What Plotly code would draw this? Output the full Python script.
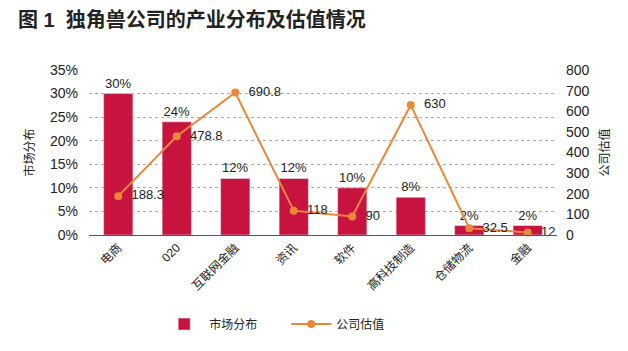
import plotly.graph_objects as go

categories = ["电商", "020", "互联网金融", "资讯", "软件", "高科技制造", "仓储物流", "金融"]
market_share = [30, 24, 12, 12, 10, 8, 2, 2]
valuation = [188.3, 478.8, 690.8, 118, 90, 630, 32.5, 12]
valuation_text = ["188.3", "478.8", "690.8", "118", "90", "630", "32.5", "12"]

FONT = "Liberation Sans, Noto Sans CJK SC, sans-serif"
BAR_COLOR = "#C8133F"
LINE_COLOR = "#EB873C"
TXT = "#222"

fig = go.Figure()
fig.add_trace(go.Bar(
    x=categories, y=market_share, name="市场分布",
    marker_color=BAR_COLOR, width=0.5,
    text=[f"{v}%" for v in market_share], textposition="outside",
    textfont=dict(size=13, color=TXT, family=FONT),
    cliponaxis=False,
))
fig.add_trace(go.Scatter(
    x=categories, y=valuation, name="公司估值", yaxis="y2",
    mode="lines+markers+text",
    line=dict(color=LINE_COLOR, width=2),
    marker=dict(color=LINE_COLOR, size=8),
    text=["  " + t for t in valuation_text], textposition="middle right",
    textfont=dict(size=13, color=TXT, family=FONT),
    cliponaxis=False,
))

fig.update_layout(
    width=628, height=351,
    margin=dict(l=89, r=71, t=70, b=114),
    paper_bgcolor="white", plot_bgcolor="white",
    font=dict(family=FONT, size=12, color=TXT),
    title=dict(text="<b>图 1  独角兽公司的产业分布及估值情况</b>",
               x=18 / 628, xref="container", xanchor="left", y=1 - 20 / 351, yanchor="middle",
               font=dict(size=20, color=TXT, family=FONT)),
    bargap=0.5,
    showlegend=True,
    legend=dict(orientation="h", x=0.15, xanchor="left", y=-0.54, yanchor="middle",
                font=dict(size=12, color=TXT, family=FONT),
                itemwidth=40, entrywidth=72, entrywidthmode="pixels",
                traceorder="normal"),
    xaxis=dict(
        tickangle=-45, showgrid=False, showline=True, linecolor="#555", linewidth=1,
        ticks="", tickfont=dict(size=12, color=TXT, family=FONT),
    ),
    yaxis=dict(
        range=[0, 35], dtick=5, ticksuffix="%",
        showgrid=True, gridcolor="#aaa", griddash="dot", gridwidth=1,
        zeroline=False, showline=False, ticks="", ticklabelstandoff=10,
        tickfont=dict(size=14, color=TXT, family=FONT),
        title=dict(text="市场分布", font=dict(size=12, color=TXT, family=FONT), standoff=12),
    ),
    yaxis2=dict(
        range=[0, 800], dtick=100, overlaying="y", side="right",
        showgrid=False, zeroline=False, showline=False, ticks="", ticklabelstandoff=8,
        tickfont=dict(size=14, color=TXT, family=FONT),
        title=dict(text="公司估值", font=dict(size=12, color=TXT, family=FONT), standoff=12),
    ),
)

fig.write_html("out.html")
